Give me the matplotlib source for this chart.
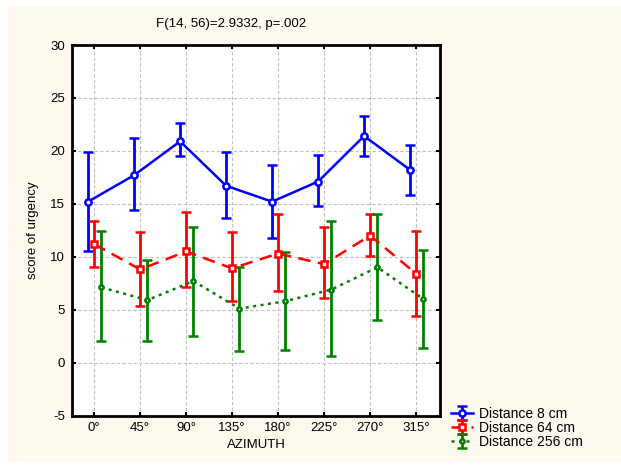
import matplotlib
matplotlib.use('Agg')
import matplotlib.pyplot as plt
import numpy as np

plt.rcParams['font.family'] = ['Liberation Sans', 'DejaVu Sans']
plt.rcParams['axes.unicode_minus'] = False

azimuth = ['0°', '45°', '90°', '135°', '180°', '225°', '270°', '315°']

d8_mean = [15.2, 17.7, 20.9, 16.7, 15.2, 17.1, 21.4, 18.2]
d8_low = [10.5, 14.4, 19.5, 13.7, 11.8, 14.8, 19.5, 15.8]
d8_high = [19.9, 21.2, 22.6, 19.9, 18.7, 19.6, 23.3, 20.6]

d64_mean = [11.2, 8.8, 10.5, 8.9, 10.3, 9.3, 12.0, 8.4]
d64_low = [9.0, 5.3, 7.1, 5.8, 6.8, 6.1, 10.1, 4.4]
d64_high = [13.4, 12.3, 14.2, 12.3, 14.0, 12.8, 14.0, 12.4]

d256_mean = [7.1, 5.9, 7.7, 5.1, 5.8, 6.9, 9.0, 6.0]
d256_low = [2.0, 2.0, 2.5, 1.1, 1.2, 0.6, 4.0, 1.4]
d256_high = [12.4, 9.7, 12.8, 9.0, 10.4, 13.4, 14.0, 10.6]

labels = ['Distance 8 cm', 'Distance 64 cm', 'Distance 256 cm']

fig = plt.figure(figsize=(6.21, 4.66), dpi=100)
fig.patch.set_facecolor('white')
# cream background panel with white border
bg = plt.Rectangle((8 / 621, 1 - 462 / 466), 613 / 621, 455 / 466,
                   transform=fig.transFigure, facecolor='#fdf9ee', edgecolor='none', zorder=-10)
fig.patches.append(bg)

ax = fig.add_axes([72 / 621, 1 - 415.5 / 466, 368 / 621, 370.5 / 466])
ax.set_facecolor('white')

x = np.arange(len(azimuth))

def draw(xs, mean, low, high, color, ls, marker, ms, label):
    mean = np.array(mean)
    err = [mean - np.array(low), np.array(high) - mean]
    ax.errorbar(xs, mean, yerr=err, color=color, ls=ls, lw=1.8,
                marker=marker, ms=ms, mfc='white', mec=color, mew=1.8,
                elinewidth=2, capsize=3.5, capthick=2, label=label, zorder=3)

draw(x - 0.13, d8_mean, d8_low, d8_high, '#0000ff', '-', 'o', 4.5, labels[0])
draw(x, d64_mean, d64_low, d64_high, '#ff0000', (0, (5, 3)), 's', 4.5, labels[1])
draw(x + 0.16, d256_mean, d256_low, d256_high, '#008000', (0, (1.2, 1.8)), 'o', 3, labels[2])

ax.set_xlim(-0.48, 7.52)
ax.set_ylim(-5, 30)
ax.set_xticks(x)
ax.set_xticklabels(azimuth)
ax.set_yticks(np.arange(-5, 31, 5))
ax.grid(True, color='#c0c0c0', ls=(0, (3, 2)), lw=0.8)
ax.tick_params(direction='in', length=3, width=1.5, top=True, right=True,
               labelsize=9.5, pad=5)
for s in ax.spines.values():
    s.set_linewidth(2)

ax.set_xlabel('AZIMUTH', fontsize=9.5, labelpad=3)
ax.set_ylabel('score of urgency', fontsize=9.5, labelpad=8)
fig.text(231 / 621, 1 - 24 / 466, 'F(14, 56)=2.9332, p=.002', ha='center', va='center', fontsize=9.5)

handles, labs = ax.get_legend_handles_labels()
fig.legend(handles, labs, loc='upper left', bbox_to_anchor=(448 / 621, 1 - 404 / 466),
           frameon=False, fontsize=10, handlelength=1.6, handletextpad=0.4,
           labelspacing=0.0, borderaxespad=0, borderpad=0.2)

fig.savefig('out.png', dpi=100, facecolor=fig.get_facecolor())
